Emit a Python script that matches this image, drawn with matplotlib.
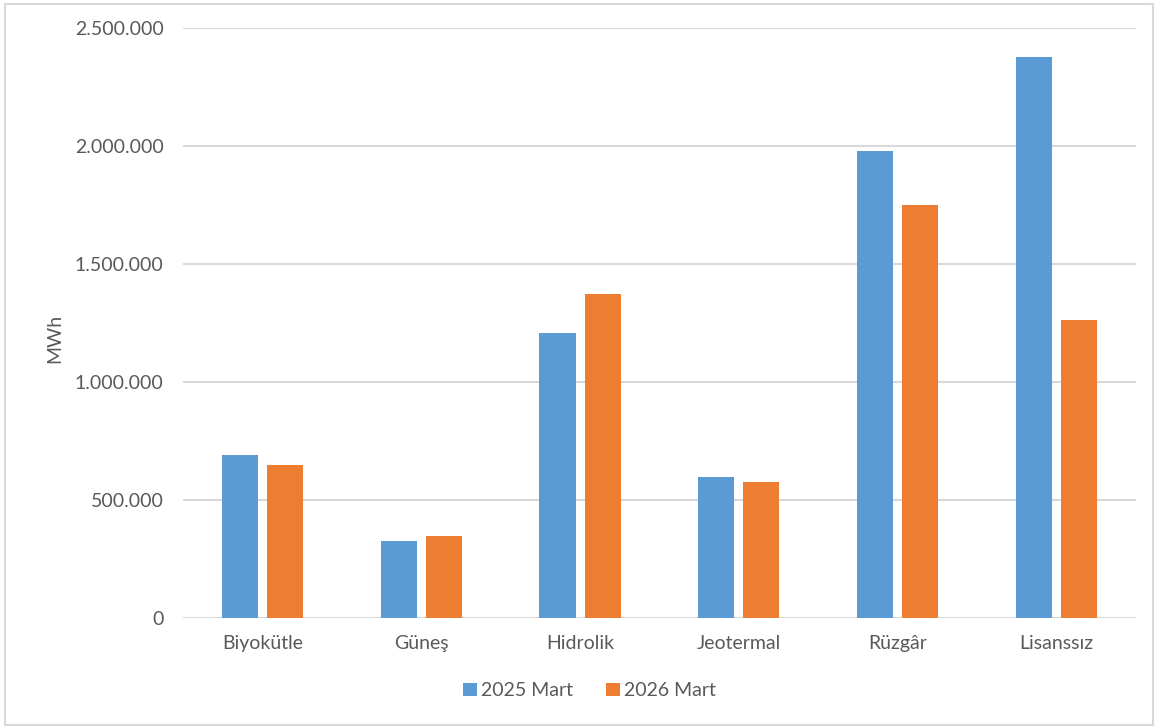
import matplotlib
matplotlib.use("Agg")
import matplotlib.pyplot as plt
import numpy as np
from matplotlib.patches import Rectangle
from matplotlib.ticker import FuncFormatter

categories = ["Biyokütle", "Güneş", "Hidrolik", "Jeotermal", "Rüzgâr", "Lisanssız"]
series_names = ["2025 Mart", "2026 Mart"]
values_2025 = [690000, 326000, 1207000, 597000, 1979000, 2377000]
values_2026 = [648000, 347000, 1373000, 576000, 1750000, 1263000]
colors = ["#5B9BD5", "#ED7D31"]

plt.rcParams['font.family'] = ['Lato', 'DejaVu Sans']
text_color = "#595959"
fs = 14

fig = plt.figure(figsize=(11.58, 7.28), dpi=100)
ax = fig.add_axes([0.158, 0.151, 0.823, 0.8105])

x = np.arange(len(categories))
w = 0.227
gap = 0.057
off = (w + gap) / 2
ax.bar(x - off, values_2025, width=w, color=colors[0], label=series_names[0], zorder=3)
ax.bar(x + off, values_2026, width=w, color=colors[1], label=series_names[1], zorder=3)

ax.set_xlim(-0.5, len(categories) - 0.5)
ax.set_ylim(0, 2500000)
ax.set_yticks(np.arange(0, 2500001, 500000))
ax.yaxis.set_major_formatter(FuncFormatter(lambda v, p: f"{int(v):,}".replace(",", ".")))
ax.set_xticks(x)
ax.set_xticklabels(categories)
ax.grid(axis='y', color="#D9D9D9", linewidth=1.5, zorder=0)
for s in ax.spines.values():
    s.set_visible(False)
ax.tick_params(axis='both', length=0, labelsize=fs, colors=text_color)
ax.tick_params(axis='y', pad=14)
ax.tick_params(axis='x', pad=12)

fig.text(55/1158, 1 - 338/728, "MWh", rotation=90, fontsize=fs, color=text_color,
         ha='center', va='center')

leg = fig.legend(loc='center', bbox_to_anchor=(0.509, 0.051), ncol=2, frameon=False,
                 fontsize=fs, handlelength=0.7, handleheight=0.7, handletextpad=0.2,
                 columnspacing=1.7)
for t in leg.get_texts():
    t.set_color(text_color)

fig.patches.append(Rectangle((5/1158, 3/728), 1148/1158, 721/728, transform=fig.transFigure,
                             fill=False, edgecolor="#D9D9D9", linewidth=1.5))

fig.savefig("out.png", dpi=100, facecolor="white")
